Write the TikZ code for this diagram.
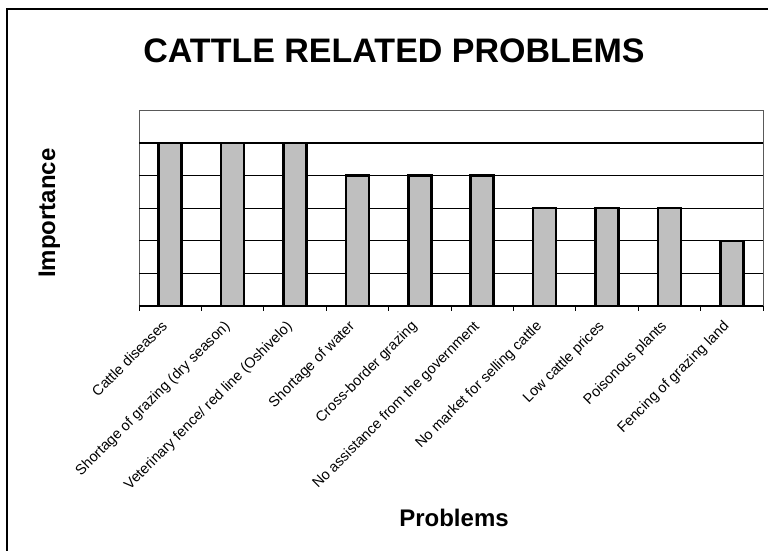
\documentclass[tikz,border=0pt]{standalone}
\usepackage{fontspec}
\setmainfont{Liberation Sans}
\begin{document}
\begin{tikzpicture}[x=1pt,y=-1pt,
  barbox/.style={draw=black,line width=2.5pt,fill=gray!50},
  gridline/.style={line width=1.1pt,draw=black},
  plotborder/.style={line width=0.8pt,draw=black!65},
  frameline/.style={line width=1.5pt,draw=black},
  catlab/.style={font=\fontsize{14.5}{16}\selectfont,rotate=45,anchor=base east,inner sep=0pt},
  axtitle/.style={font=\fontsize{24}{28}\selectfont\bfseries,inner sep=0pt},
  charttitle/.style={font=\fontsize{34}{40}\selectfont\bfseries,inner sep=0pt,anchor=base}]
\clip (0,0) rectangle (768,551);
\fill[white] (0,0) rectangle (768,551);
% outer frame
\draw[frameline] (7,9) rectangle (780,565);
% title
\node[charttitle] (title) at (394,63) {CATTLE RELATED PROBLEMS};
% plot area
\draw[plotborder] (139,110) rectangle (763,306);
\foreach \k in {1,...,5}
  \draw[gridline] (139,{306-32.6*\k}) -- (763,{306-32.6*\k});
% bars
\foreach \i/\v in {1/5,2/5,3/5,4/4,5/4,6/4,7/3,8/3,9/3,10/2}{
  \pgfmathsetmacro\cx{139+62.4*(\i-0.5)}
  \draw[barbox] ({\cx-11.5},306) rectangle ({\cx+11.5},{306-32.6*\v});
}
% x axis
\draw[line width=1.8pt] (139,306) -- (763,306);
\foreach \k in {0,...,10}
  \draw[line width=1pt] ({139+62.4*\k},306) -- ({139+62.4*\k},311);
% category labels
\foreach \i/\t in {1/{Cattle diseases},2/{Shortage of grazing (dry season)},3/{Veterinary fence/ red line (Oshivelo)},4/{Shortage of water},5/{Cross-border grazing},6/{No assistance from the government},7/{No market for selling cattle},8/{Low cattle prices},9/{Poisonous plants},10/{Fencing of grazing land}}{
  \pgfmathsetmacro\cx{139+62.4*(\i-0.5)}
  \node[catlab] (lab\i) at ({\cx-2},327) {\t};
}
% axis titles
\node[axtitle,rotate=90,anchor=base] (ytitle) at (55,213) {Importance};
\node[axtitle,anchor=base] (xtitle) at (454,526) {Problems};
\end{tikzpicture}
\end{document}
